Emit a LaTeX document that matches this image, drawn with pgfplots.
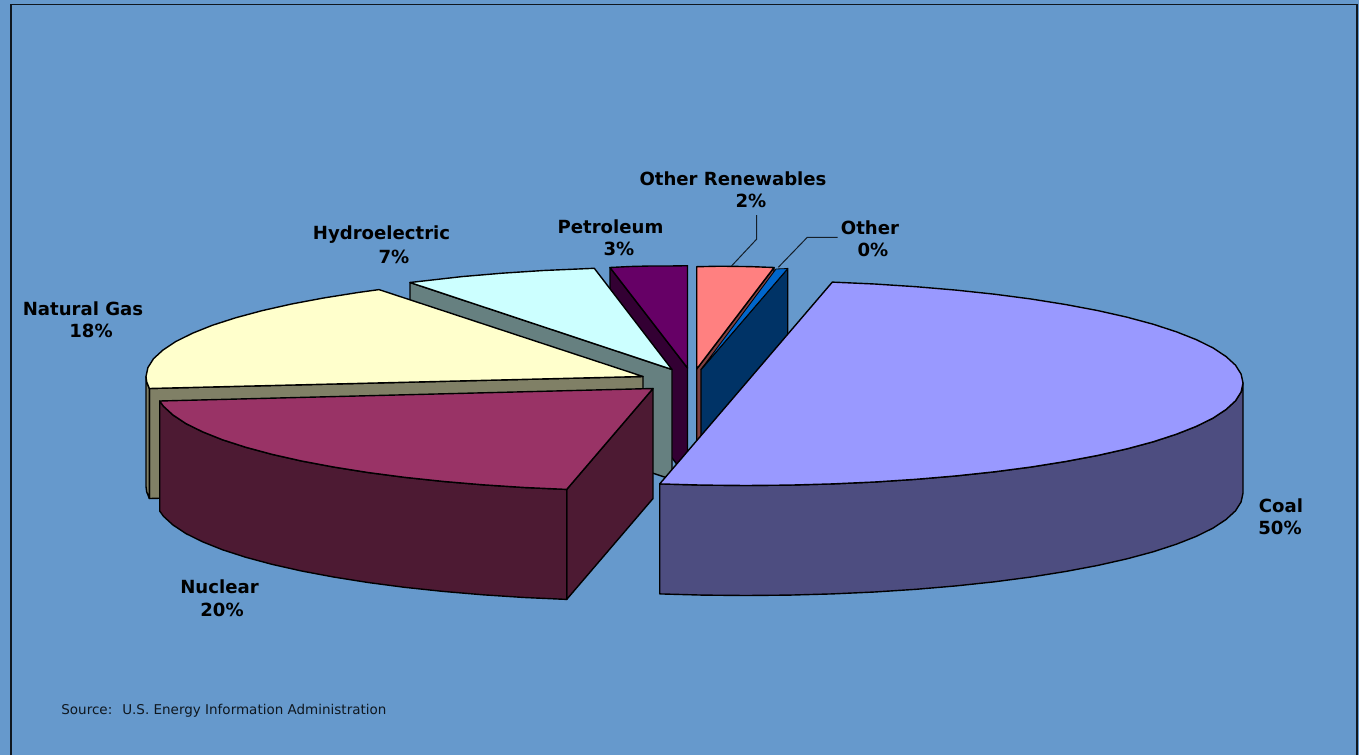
\documentclass[border=0pt]{standalone}
\usepackage{fontspec}
\setmainfont{DejaVu Sans}
\usepackage{pgfplots}
\pgfplotsset{compat=1.18}
\definecolor{bgblue}{HTML}{6699CC}
\definecolor{coaltop}{HTML}{9999FF}
\definecolor{coalside}{HTML}{4D4D80}
\definecolor{nuctop}{HTML}{993366}
\definecolor{nucside}{HTML}{4D1A33}
\definecolor{gastop}{HTML}{FFFFCC}
\definecolor{gasside}{HTML}{808066}
\definecolor{hydtop}{HTML}{CCFFFF}
\definecolor{hydside}{HTML}{668080}
\definecolor{pettop}{HTML}{660066}
\definecolor{petside}{HTML}{330033}
\definecolor{rentop}{HTML}{FF8080}
\definecolor{renside}{HTML}{804040}
\definecolor{othtop}{HTML}{0066CC}
\definecolor{othside}{HTML}{003366}
\tikzset{
    slice/.style={draw=black, line width=0.7pt, line join=round, mark=none},
    lab/.style={font=\fontsize{9.05pt}{10pt}\selectfont\bfseries, text=black, inner sep=0pt, anchor=center},
}
\begin{document}
\begin{tikzpicture}
\begin{axis}[
    scale only axis,
    width=679.5pt,
    height=377.5pt,
    xmin=0, xmax=1359,
    ymin=0, ymax=755,
    y dir=reverse,
    hide axis,
    clip=true,
]
% background and frame
\addplot[fill=bgblue, draw=none, mark=none] coordinates {(0,0) (1359,0) (1359,755) (0,755)} --cycle;
\addplot[draw=black!85!bgblue, line width=0.8pt, mark=none] coordinates {(11,755) (11,4.5) (1356.7,4.5) (1356.7,755)};

% petroleum
\addplot[slice, fill=petside] coordinates {(610,267.5) (687.5,368) (687.5,478) (610,377.5)} --cycle;
\addplot[slice, fill=pettop] coordinates {(610,267.5) (630,266.5) (650,266) (670,266) (687.5,265.7) (687.5,368)} --cycle;

% hydroelectric
\addplot[slice, fill=hydside] coordinates {(410,282.5) (672,369.5) (672,479.5) (410,392.5)} --cycle;
\addplot[slice, fill=hydtop] coordinates {(410,282.5) (462,276.6) (502,273.2) (543.4,270.5) (594.3,268.3) (672,369.5)} --cycle;

% natural gas
\addplot[slice, fill=gasside] coordinates {(149.4,388.5) (643,376.5) (643,486.5) (149.4,498.5)} --cycle;
\addplot[slice, fill=gasside] coordinates {(146,376.5) (146.7,381.9) (149.4,388.5) (149.4,498.5) (146.7,491.9) (146,486.5)} --cycle;
\addplot[slice, fill=gastop] coordinates {(379,289.6) (358,292.5) (323.5,298) (291.6,304) (262.3,310.6) (235.9,317.7) (212.6,325.2) (192.6,333.2) (176,341.4) (163,350) (153.5,358.7) (147.9,367.6) (146,376.5) (146.7,381.9) (149.4,388.5) (643,376.5)} --cycle;

% nuclear
\addplot[slice, fill=nucside] coordinates {(566.7,489.4) (653,388.5) (653,498.5) (566.7,599.4)} --cycle;
\addplot[slice, fill=nucside] coordinates {(566.7,489.4) (524.4,487.5) (483,484.8) (443,481.4) (404.5,477.3) (368,472.5) (333.5,467) (301.6,461) (272.3,454.4) (245.9,447.3) (222.6,439.8) (202.6,431.8) (186,423.6) (173,415) (163.5,406.3) (159.7,401) (159.7,511) (163.5,516.3) (173,525) (186,533.6) (202.6,541.8) (222.6,549.8) (245.9,557.3) (272.3,564.4) (301.6,571) (333.5,577) (368,582.5) (404.5,587.3) (443,591.4) (483,594.8) (524.4,597.5) (566.7,599.4)} --cycle;
\addplot[slice, fill=nuctop] coordinates {(653,388.5) (566.7,489.4) (524.4,487.5) (483,484.8) (443,481.4) (404.5,477.3) (368,472.5) (333.5,467) (301.6,461) (272.3,454.4) (245.9,447.3) (222.6,439.8) (202.6,431.8) (186,423.6) (173,415) (163.5,406.3) (159.7,401)} --cycle;

% other renewables
\addplot[slice, fill=renside] coordinates {(696.7,369) (774,267.5) (774,377.5) (696.7,479)} --cycle;
\addplot[slice, fill=rentop] coordinates {(696.7,266.7) (720,266.2) (750,266.6) (774,267.5) (696.7,369)} --cycle;

% other
\addplot[slice, fill=othside] coordinates {(701,369.5) (787.7,268.5) (787.7,378.5) (701,479.5)} --cycle;
\addplot[slice, line width=0.4pt, fill=othtop] coordinates {(701,369.5) (776,269) (787.7,268.5)} --cycle;

% coal
\addplot[slice, fill=coalside] coordinates {(1243,383) (1241.1,391.9) (1235.5,400.8) (1226,409.5) (1213,418.1) (1196.4,426.3) (1176.4,434.2) (1153.1,441.8) (1126.7,448.9) (1097.4,455.5) (1065.5,461.5) (1031.1,467) (994.5,471.8) (956,475.9) (916,479.3) (874.6,482) (832.3,483.9) (789.3,485.1) (746,485.5) (702.7,485.1) (659.7,483.9) (659.7,593.9) (702.7,595.1) (746,595.5) (789.3,595.1) (832.3,593.9) (874.6,592) (916,589.3) (956,585.9) (994.5,581.8) (1031.1,577) (1065.5,571.5) (1097.4,565.5) (1126.7,558.9) (1153.1,551.8) (1176.4,544.2) (1196.4,536.3) (1213,528.1) (1226,519.5) (1235.5,510.8) (1241.1,501.9) (1243,493)} --cycle;
\addplot[slice, fill=coaltop] coordinates {(832.3,282.1) (874.6,284) (916,286.7) (956,290.1) (994.5,294.2) (1031.1,299) (1065.5,304.5) (1097.4,310.5) (1126.7,317.1) (1153.1,324.2) (1176.4,331.8) (1196.4,339.7) (1213,347.9) (1226,356.5) (1235.5,365.2) (1241.1,374.1) (1243,383) (1241.1,391.9) (1235.5,400.8) (1226,409.5) (1213,418.1) (1196.4,426.3) (1176.4,434.2) (1153.1,441.8) (1126.7,448.9) (1097.4,455.5) (1065.5,461.5) (1031.1,467) (994.5,471.8) (956,475.9) (916,479.3) (874.6,482) (832.3,483.9) (789.3,485.1) (746,485.5) (702.7,485.1) (659.7,483.9)} --cycle;

% leader lines
\addplot[draw=black!80!bgblue, line width=0.5pt, mark=none] coordinates {(756.5,215) (756.5,239.3) (731.5,266)};
\addplot[draw=black!80!bgblue, line width=0.5pt, mark=none] coordinates {(837.5,237.3) (807.3,237.3) (778.3,267.3)};

% labels
\node[lab] at (axis cs:733,179) {Other Renewables};
\node[lab] at (axis cs:751,201) {2\%};
\node[lab] at (axis cs:870,228) {Other};
\node[lab] at (axis cs:873,250) {0\%};
\node[lab] at (axis cs:610.5,227) {Petroleum};
\node[lab] at (axis cs:619,249) {3\%};
\node[lab] at (axis cs:381.5,235) {Hydroelectric};
\node[lab] at (axis cs:394,257) {7\%};
\node[lab] at (axis cs:83,309) {Natural Gas};
\node[lab] at (axis cs:91,331) {18\%};
\node[lab] at (axis cs:219.5,587) {Nuclear};
\node[lab] at (axis cs:222,610) {20\%};
\node[lab] at (axis cs:1281,506) {Coal};
\node[lab] at (axis cs:1280,528) {50\%};
\node[anchor=west, inner sep=0pt, font=\fontsize{6.75pt}{8pt}\selectfont, text=black!85!bgblue] at (axis cs:61,711) {Source:\hspace{5pt}U.S. Energy Information Administration};
\end{axis}
\end{tikzpicture}
\end{document}
